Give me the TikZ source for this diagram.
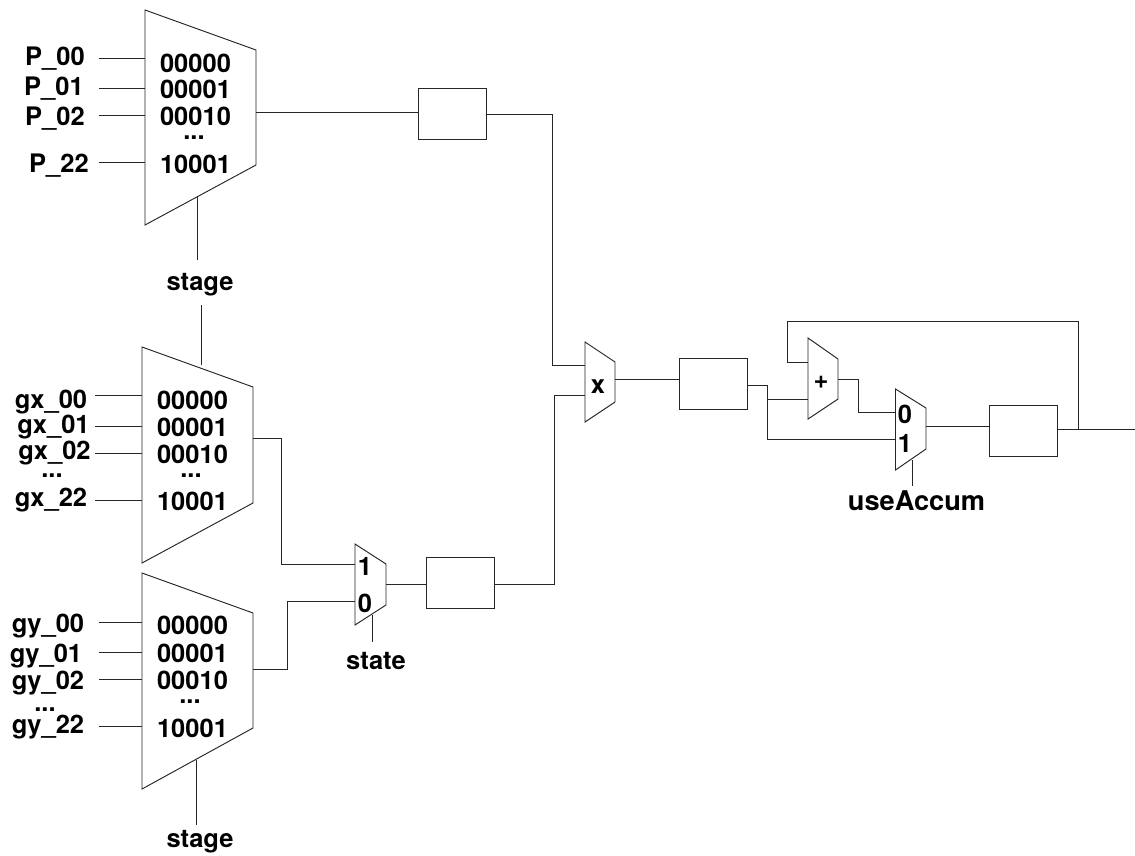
\documentclass[tikz,border=0pt]{standalone}
\usepackage{fontspec}
\setmainfont{TeX Gyre Heros}
\tikzset{
  x=1pt,y=-1pt,
  wire/.style={line width=0.95pt,draw=black!85,line join=miter},
  muxshape/.style={line width=0.95pt,draw=black!85,line join=miter},
  reg/.style={draw=black!85,line width=0.95pt,minimum width=68pt,minimum height=51pt,inner sep=0pt,outer sep=0pt},
  lab/.style={font=\fontsize{25.5}{30}\selectfont\bfseries,inner sep=0pt,outer sep=0pt,anchor=base},
}
\begin{document}
\begin{tikzpicture}
\useasboundingbox (0,0) rectangle (1135,855);
% ---- P mux
\draw[muxshape] (145,10) -- (256,50) -- (256,165) -- (145,225) -- cycle;
\foreach \n/\y/\lx/\t/\b in {a/58/55/P\_00/65,b/88/54/P\_01/95,c/115/55/P\_02/125,d/162/59/P\_22/172}{
  \node[lab] (p\n) at (\lx,\b) {\t};
  \coordinate (ps\n) at (99,\y); \coordinate (pe\n) at (145,\y);
  \draw[wire] (ps\n) -- (pe\n);
}
\foreach \n/\t/\b in {a/00000/72,b/00001/98,c/00010/125,d/10001/173}{\node[lab] (pv\n) at (195.5,\b) {\t};}
\node[lab] (pdots) at (194,139) {...};
\node[lab] (pstage) at (200,290) {stage};
\coordinate (psel) at (197,197); \coordinate (pselend) at (197,260);
\draw[wire] (psel) -- (pselend);
\coordinate (pout) at (256,112);
% ---- gx mux
\draw[muxshape] (142,347) -- (253,387) -- (253,503) -- (142,563) -- cycle;
\foreach \n/\y/\lx/\t/\b in {a/395/51/gx\_00/408,b/426/53.5/gx\_01/433,c/453/54.5/gx\_02/459,d/500/51/gx\_22/506}{
  \node[lab] (x\n) at (\lx,\b) {\t};
  \coordinate (xs\n) at (95,\y); \coordinate (xe\n) at (142,\y);
  \draw[wire] (xs\n) -- (xe\n);
}
\foreach \n/\t/\b in {a/00000/409,b/00001/436,c/00010/463,d/10001/510}{\node[lab] (xv\n) at (192.5,\b) {\t};}
\node[lab] (xdots) at (191,477) {...};
\node[lab] (xdotsb) at (52,477) {...};
\coordinate (xsel) at (201,365); \coordinate (xselend) at (201,305);
\draw[wire] (xsel) -- (xselend);
\coordinate (xout) at (253,438);
% ---- gy mux
\draw[muxshape] (142,573) -- (253,613) -- (253,728) -- (142,789) -- cycle;
\foreach \n/\y/\lx/\t/\b in {a/622/48/gy\_00/632,b/652/46/gy\_01/662,c/679/48/gy\_02/689,d/726/48/gy\_22/733}{
  \node[lab] (y\n) at (\lx,\b) {\t};
  \coordinate (ys\n) at (99,\y); \coordinate (ye\n) at (142,\y);
  \draw[wire] (ys\n) -- (ye\n);
}
\foreach \n/\t/\b in {a/00000/634,b/00001/662,c/00010/689,d/10001/737}{\node[lab] (yv\n) at (192.5,\b) {\t};}
\node[lab] (ydots) at (190,703) {...};
\node[lab] (ydotsb) at (45,711) {...};
\node[lab] (ystage) at (200,847) {stage};
\coordinate (ysel) at (196.7,760); \coordinate (yselend) at (196.7,825);
\draw[wire] (ysel) -- (yselend);
\coordinate (yout) at (253,669);
% ---- state mux
\draw[muxshape] (355,544) -- (386,564) -- (386,605) -- (355,625) -- cycle;
\node[lab] (s1) at (365,575) {1};
\node[lab] (s0) at (365,612) {0};
\coordinate (sin1) at (355,564); \coordinate (sin0) at (355,601);
\coordinate (sout) at (386,584);
\coordinate (ssel) at (372,615); \coordinate (sselend) at (372,642);
\draw[wire] (ssel) -- (sselend);
\node[lab] (state) at (376,669) {state};
\draw[wire] (xout) -- (281,438) |- (sin1);
\draw[wire] (yout) -- (287,669) |- (sin0);
% ---- registers
\node[reg] (r1) at (452.5,113.5) {};
\node[reg] (r2) at (460,583) {};
\node[reg] (r3) at (713,383.5) {};
\node[reg] (r4) at (1023.5,431) {};
\draw[wire] (pout) -- (r1.west |- pout);
\draw[wire] (sout) -- (r2.west |- sout);
% ---- multiplier
\draw[muxshape] (585,342) -- (615,362) -- (615,402) -- (585,422) -- cycle;
\node[lab] (times) at (598,393) {x};
\coordinate (min1) at (585,365); \coordinate (min2) at (585,395); \coordinate (mout) at (615,379);
\draw[wire] (r1.east |- 0,114) -- (552,114) |- (min1);
\draw[wire] (r2.east |- 0,584) -- (554,584) |- (min2);
\draw[wire] (mout) -- (r3.west |- mout);
% ---- adder
\draw[muxshape] (808,338) -- (838,359) -- (838,399) -- (808,419) -- cycle;
\node[lab] (plus) at (821,388) {+};
\coordinate (ain1) at (808,362); \coordinate (ain2) at (808,399); \coordinate (aout) at (838,379);
% ---- accumulate mux
\draw[muxshape] (895.5,389) -- (926,408) -- (926,449) -- (895.5,470) -- cycle;
\node[lab] (u0) at (905,423) {0};
\node[lab] (u1) at (905,452) {1};
\coordinate (uin0) at (895.5,412); \coordinate (uin1) at (895.5,439); \coordinate (uout) at (926,426);
\coordinate (usel) at (912,460); \coordinate (uselend) at (912,486);
\draw[wire] (usel) -- (uselend);
\node[lab,font=\fontsize{27.2}{30}\selectfont\bfseries] (useaccum) at (916.5,510) {useAccum};
\draw[wire] (r3.east |- 0,385) -- (767,385) |- (uin1);
\coordinate (tap) at (767,399);
\draw[wire] (tap) -- (ain2);
\draw[wire] (aout) -- (858,379) |- (uin0);
\draw[wire] (uout) -- (r4.west |- uout);
\coordinate (outend) at (1135,429);
\coordinate (fb) at (1078,429);
\draw[wire] (r4.east |- outend) -- (outend);
\draw[wire] (fb) -- (1078,321) -| (787,362) -- (ain1);
\end{tikzpicture}
\end{document}
